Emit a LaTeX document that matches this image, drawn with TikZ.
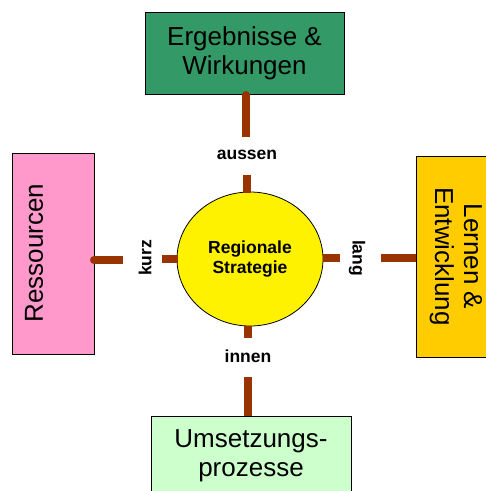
\documentclass[tikz,border=0pt]{standalone}
\usepackage{fontspec}
\setmainfont{Liberation Sans}
\usetikzlibrary{shapes.geometric}
\definecolor{brn}{RGB}{153,51,0}
\definecolor{boxgreen}{RGB}{51,153,102}
\definecolor{boxpink}{RGB}{255,153,204}
\definecolor{boxorange}{RGB}{255,204,0}
\definecolor{boxlight}{RGB}{204,255,204}
\begin{document}
\begin{tikzpicture}[x=1pt,y=-1pt,
  box/.style={draw=black, line width=0.8pt, inner sep=0pt, align=center,
    font=\fontsize{26}{29}\selectfont},
  bigtext/.style={inner sep=0pt, align=center, font=\fontsize{26}{29}\selectfont},
  conn/.style={draw=brn, line width=8pt},
  capdot/.style={fill=brn},
  lbl/.style={inner sep=0pt, font=\bfseries\fontsize{17.5}{19.5}\selectfont}]
\useasboundingbox (0,0) rectangle (486,491);

% outer boxes
\node[box, fill=boxgreen, minimum width=199pt, minimum height=82pt] (top) at (244.5,53)
  {Ergebnisse \&\\Wirkungen};
\node[box, fill=boxpink, minimum width=82pt, minimum height=201pt] (left) at (53,253.5) {};
\node[bigtext, rotate=90] (lefttext) at (34,253) {Ressourcen};
\node[box, fill=boxorange, rotate=-90, minimum width=201pt, minimum height=80pt] (right) at (456,256.5)
  {Lernen \&\\Entwicklung};
\node[box, fill=boxlight, minimum width=200pt, minimum height=79pt] (bottom) at (251,455.5)
  {Umsetzungs-\\prozesse};

% centre
\node[ellipse, draw=black, line width=0.8pt, fill=yellow, minimum width=146pt, minimum height=134pt,
  inner sep=0pt, align=center, font=\bfseries\fontsize{17.5}{19.5}\selectfont] (c) at (250,259)
  {Regionale\\Strategie};

% labels
\node[lbl] (aussen) at (247,155) {aussen};
\node[lbl] (innen) at (248,356) {innen};
\node[lbl, rotate=90] (kurz) at (145,258) {kurz};
\node[lbl, rotate=-90] (lang) at (357,258) {lang};

% connector end points
\coordinate (t1) at (246,95);
\coordinate (t2) at (246,137);
\coordinate (t3) at (247,175);
\coordinate (t4) at (247,192.5);
\coordinate (l1) at (94,260);
\coordinate (l2) at (123,260);
\coordinate (l3) at (162,259);
\coordinate (l4) at (177.5,259);
\coordinate (r1) at (322.5,258);
\coordinate (r2) at (340,258);
\coordinate (r3) at (381,258);
\coordinate (r4) at (416,258);
\coordinate (b1) at (248,325.5);
\coordinate (b2) at (248,338);
\coordinate (b3) at (248,377);
\coordinate (b4) at (248,416);

\draw[conn] (t1) -- (t2);
\fill[capdot] (t1) circle[radius=4];
\draw[conn] (t3) -- (t4);
\draw[conn] (l1) -- (l2);
\fill[capdot] (l1) circle[radius=4];
\draw[conn] (l3) -- (l4);
\draw[conn] (r1) -- (r2);
\draw[conn] (r3) -- (r4);
\draw[conn] (b1) -- (b2);
\draw[conn] (b3) -- (b4);
\end{tikzpicture}
\end{document}
